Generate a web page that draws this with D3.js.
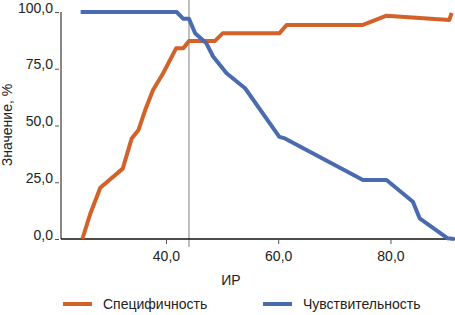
<!DOCTYPE html>
<html>
<head>
<meta charset="utf-8">
<script src="https://cdn.jsdelivr.net/npm/d3@7"></script>
<style>
  body { margin: 0; background: #fff; }
  svg text { font-family: "Liberation Sans Narrow", "Arial Narrow", "Liberation Sans", sans-serif; fill: #222; }
</style>
</head>
<body>
<svg id="chart"></svg>
<script>
const WIDTH = 455;
const HEIGHT = 315;

// ИР values and both series (%)
const specX = [25.1, 26.5, 28.3, 32.3, 33.9, 35.1, 36.3, 37.7, 39.5, 41.8, 43.1, 44.1, 48.7, 50.1, 60.2, 61.5, 75.1, 79.3, 90.5, 90.9];
const specY = [0, 11, 22.6, 31, 44.3, 48, 56.8, 65.6, 73, 84, 84, 87.2, 87.2, 90.6, 90.6, 94.3, 94.3, 98.4, 96.5, 99.6];

const sensX = [24.8, 41.9, 43.1, 44.1, 45.2, 47.2, 48.4, 50.8, 54.1, 60.2, 61.2, 75.1, 79.3, 84.0, 85.2, 90.2, 91.4];
const sensY = [100, 100, 97, 97, 90.6, 86.2, 80.4, 73, 66.4, 45, 44.3, 26, 26, 16.4, 9.1, 0.3, 0];

const xTicks = [40, 60, 80];
const yTicks = [0, 25, 50, 75, 100];
const cutoff = 44.1;

const seriesNames = ['Специфичность', 'Чувствительность'];
const colors = ['#d2622a', '#4a6bb0'];

const svg = d3.select('#chart').attr('width', WIDTH).attr('height', HEIGHT);

const x = d3.scaleLinear().domain([21.3, 91.5]).range([61, 455]);
const y = d3.scaleLinear().domain([0, 100]).range([239, 12]);

const fmt = d => d3.format('.1f')(d).replace('.', ',');

// cutoff line
svg.append('line')
    .attr('x1', x(cutoff)).attr('x2', x(cutoff))
    .attr('y1', 0).attr('y2', 247)
    .attr('stroke', '#aaa').attr('stroke-width', 1.5);

// y axis
const yAxis = svg.append('g')
    .attr('transform', 'translate(61,0)')
    .call(d3.axisLeft(y).tickValues(yTicks).tickSize(6).tickFormat(fmt));
yAxis.select('.domain').attr('stroke', '#888').attr('stroke-width', 2).attr('d', `M0,${y(100)}V${y(0)}`);
yAxis.selectAll('.tick line').attr('stroke', '#555').attr('y1', 0).attr('y2', 0).attr('x2', -6).attr('x1', -2);
yAxis.selectAll('.tick text').attr('x', -8).attr('dy', '0').style('font-size', '14px');

// x axis
const xAxis = svg.append('g')
    .attr('transform', `translate(0,${y(0)})`)
    .call(d3.axisBottom(x).tickValues(xTicks).tickSize(5).tickFormat(fmt));
xAxis.select('.domain').attr('stroke', '#111').attr('stroke-width', 1.5).attr('d', `M61,0H455`);
xAxis.selectAll('.tick line').attr('stroke', '#555');
xAxis.selectAll('.tick text').attr('y', 12).style('font-size', '14px');

// axis titles
svg.append('text')
    .attr('x', 231).attr('y', 285)
    .attr('text-anchor', 'middle')
    .style('font-size', '14px')
    .text('ИР');

svg.append('text')
    .attr('transform', 'translate(12,125) rotate(-90)')
    .attr('text-anchor', 'middle')
    .style('font-size', '14px')
    .text('Значение, %');

// lines
const line = d3.line().x(d => x(d[0])).y(d => y(d[1]));
const series = [d3.zip(specX, specY), d3.zip(sensX, sensY)];

series.forEach((pts, i) => {
    svg.append('path')
        .datum(pts)
        .attr('fill', 'none')
        .attr('stroke', colors[i])
        .attr('stroke-width', 4)
        .attr('stroke-linejoin', 'round')
        .attr('d', line);
});

// legend
const legendX = [63, 263];
seriesNames.forEach((name, i) => {
    svg.append('line')
        .attr('x1', legendX[i]).attr('x2', legendX[i] + 29)
        .attr('y1', 304).attr('y2', 304)
        .attr('stroke', colors[i]).attr('stroke-width', 4);
    svg.append('text')
        .attr('x', legendX[i] + 40).attr('y', 309)
        .style('font-size', '14px')
        .text(name);
});
</script>
</body>
</html>
